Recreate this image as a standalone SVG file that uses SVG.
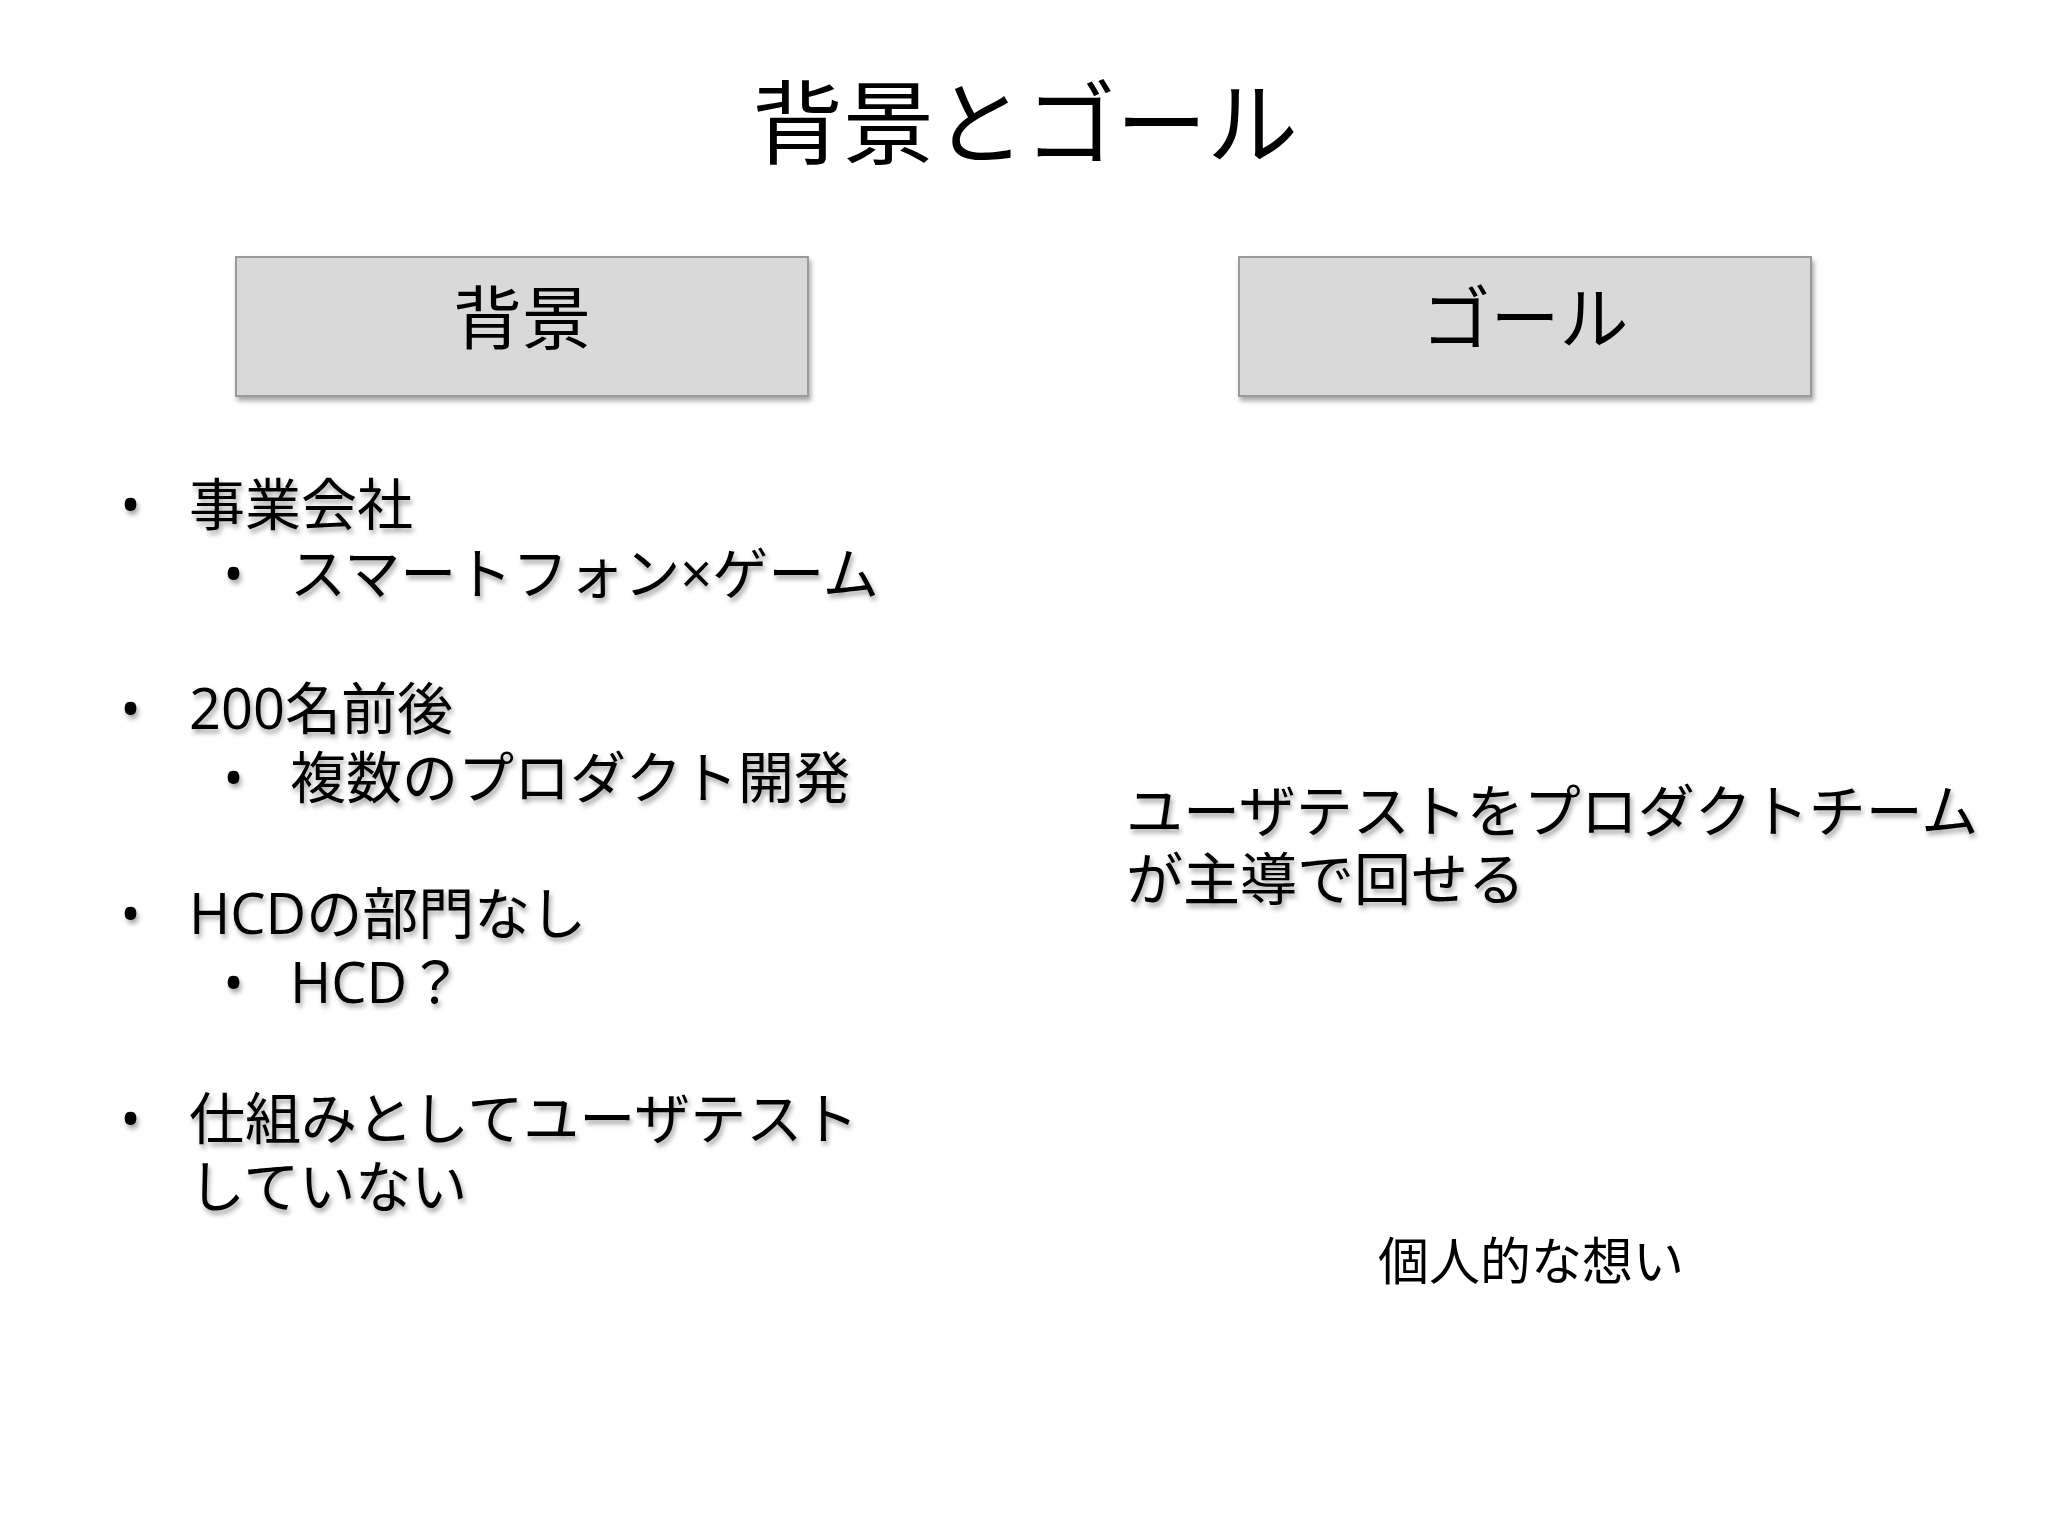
<svg xmlns="http://www.w3.org/2000/svg" width="2048" height="1536" viewBox="0 0 2048 1536">
<defs>
<filter id="sh" x="-10%" y="-10%" width="130%" height="140%"><feDropShadow dx="2" dy="4" stdDeviation="2.5" flood-color="#000" flood-opacity="0.35"/></filter>
</defs>
<style>
text{font-family:"Open Sans","Noto Sans CJK JP",sans-serif;fill:#000}
.b{font-size:56px;filter:url(#sh)}
.r{font-size:57px;filter:url(#sh)}
.box{fill:#d9d9d9;stroke:#9a9a9a;stroke-width:2;filter:url(#sh)}
</style>
<rect width="2048" height="1536" fill="#fff"/>
<text x="1025" y="157" font-size="91" text-anchor="middle">背景とゴール</text>
<g id="bg"><rect class="box" x="236" y="257" width="572" height="139"/><text x="522" y="344" font-size="69" text-anchor="middle">背景</text></g>
<g id="goal"><rect class="box" x="1239" y="257" width="572" height="139"/><text x="1525" y="344" font-size="69" text-anchor="middle">ゴール</text></g>
<g id="bullets">
<text class="b" x="120" y="525">•</text><text class="b" x="189" y="525">事業会社</text>
<text class="b" x="223" y="594">•</text><text class="b" x="290" y="594">スマートフォン×ゲーム</text>
<text class="b" x="120" y="729">•</text><text class="b" x="189" y="729">200名前後</text>
<text class="b" x="223" y="798">•</text><text class="b" x="290" y="798">複数のプロダクト開発</text>
<text class="b" x="120" y="934">•</text><text class="b" x="189" y="934">HCDの部門なし</text>
<text class="b" x="223" y="1003">•</text><text class="b" x="290" y="1003">HCD？</text>
<text class="b" x="120" y="1139">•</text><text class="b" x="189" y="1139">仕組みとしてユーザテスト</text>
<text class="b" x="189" y="1207">していない</text>
</g>
<g id="goaltext">
<text class="r" x="1126" y="832">ユーザテストをプロダクトチーム</text>
<text class="r" x="1126" y="900">が主導で回せる</text>
</g>
<text x="1378" y="1280" font-size="51">個人的な想い</text>
</svg>
